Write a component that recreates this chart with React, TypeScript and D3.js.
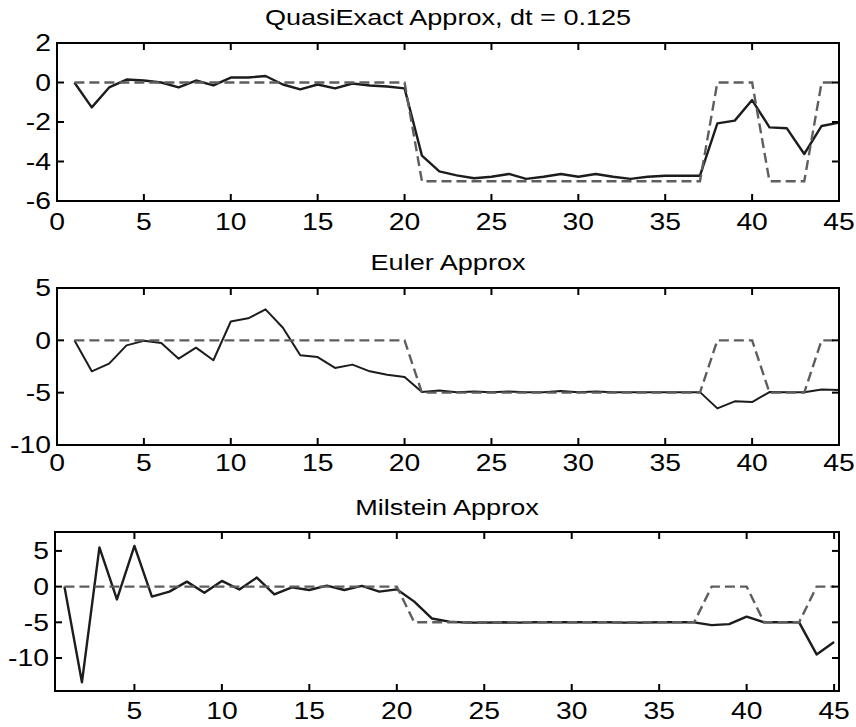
import React from 'react';
import * as d3 from 'd3';

const steps = d3.range(1, 46);

const trueSignal = [
  0, 0, 0, 0, 0, 0, 0, 0, 0, 0, 0, 0, 0, 0, 0, 0, 0, 0, 0, 0,
  -5, -5, -5, -5, -5, -5, -5, -5, -5, -5, -5, -5, -5, -5, -5, -5, -5,
  0, 0, 0,
  -5, -5, -5,
  0, 0,
];

const quasiExact = [
  0, -1.26, -0.25, 0.15, 0.1, 0.0, -0.25, 0.1, -0.15, 0.25,
  0.25, 0.33, -0.1, -0.35, -0.1, -0.3, -0.05, -0.15, -0.2, -0.3,
  -3.7, -4.5, -4.7, -4.85, -4.77, -4.63, -4.88, -4.77, -4.63, -4.77,
  -4.63, -4.77, -4.88, -4.77, -4.72, -4.72, -4.72, -2.07, -1.93, -0.89,
  -2.27, -2.32, -3.62, -2.2, -2.03,
];

const euler = [
  0, -2.96, -2.23, -0.48, -0.05, -0.25, -1.75, -0.7, -1.9, 1.8,
  2.1, 2.96, 1.2, -1.43, -1.6, -2.64, -2.32, -2.96, -3.28, -3.5,
  -4.94, -4.8, -4.95, -4.9, -4.95, -4.9, -4.95, -4.95, -4.85, -4.95,
  -4.9, -4.95, -4.95, -4.95, -4.95, -4.95, -4.95, -6.5, -5.83, -5.9,
  -4.94, -4.95, -4.95, -4.7, -4.75,
];

const milstein = [
  0, -13.4, 5.5, -1.8, 5.7, -1.4, -0.7, 0.7, -0.85, 0.8,
  -0.4, 1.27, -1.08, -0.1, -0.47, 0.14, -0.47, 0.1, -0.7, -0.38,
  -2.1, -4.46, -4.9, -5.05, -5.05, -5.0, -5.05, -5.0, -5.0, -5.0,
  -5.0, -5.0, -5.05, -5.05, -5.0, -5.0, -5.0, -5.4, -5.26, -4.2,
  -5.0, -5.0, -5.0, -9.5, -7.75,
];

const xTicksFull = [0, 5, 10, 15, 20, 25, 30, 35, 40, 45];
const xTicksMil = [5, 10, 15, 20, 25, 30, 35, 40, 45];

const panels = [
  {
    title: 'QuasiExact Approx, dt = 0.125',
    approx: quasiExact,
    xDomain: [0, 45],
    xRange: [57, 839],
    yDomain: [-6, 2],
    yRange: [201, 43],
    yTicks: [-6, -4, -2, 0, 2],
    xTicks: xTicksFull,
    titleY: 25,
    solidWidth: 2.4,
    xLabelDy: 29,
  },
  {
    title: 'Euler Approx',
    approx: euler,
    xDomain: [0, 45],
    xRange: [57, 839],
    yDomain: [-10, 5],
    yRange: [445, 288],
    yTicks: [-10, -5, 0, 5],
    xTicks: xTicksFull,
    titleY: 270,
    solidWidth: 2,
    xLabelDy: 26,
  },
  {
    title: 'Milstein Approx',
    approx: milstein,
    xDomain: [0.46, 45.28],
    xRange: [55, 839],
    yDomain: [-14.62, 7.65],
    yRange: [691, 532],
    yTicks: [-10, -5, 0, 5],
    xTicks: xTicksMil,
    titleY: 515,
    solidWidth: 2.4,
    xLabelDy: 28,
  },
];

const SX = 1.23;
const FONT = "'Liberation Sans', Arial, sans-serif";

function Panel({ p }: { p: any }) {
  const x = d3.scaleLinear().domain(p.xDomain).range(p.xRange);
  const y = d3.scaleLinear().domain(p.yDomain).range(p.yRange);
  const [x0, x1] = p.xRange;
  const [yb, yt] = p.yRange;
  const line = d3
    .line<number>()
    .x((_, i) => x(steps[i]))
    .y((d) => y(d));
  const tickLen = 7;
  return (
    <g>
      <rect x={x0} y={yt} width={x1 - x0} height={yb - yt} fill="#ffffff" />
      <path d={line(p.approx) || ''} fill="none" stroke="#1c1c1c" strokeWidth={p.solidWidth} strokeLinejoin="round" />
      <path d={line(trueSignal) || ''} fill="none" stroke="#5e5e5e" strokeWidth={2.4} strokeDasharray="10,5" />
      {p.xTicks.map((t: number) => (
        <g key={'xt' + t}>
          <line x1={x(t)} x2={x(t)} y1={yb} y2={yb - tickLen} stroke="#000" strokeWidth={2} />
          <line x1={x(t)} x2={x(t)} y1={yt} y2={yt + tickLen} stroke="#000" strokeWidth={2} />
          <text
            transform={`translate(${x(t)},${yb + p.xLabelDy}) scale(${SX},1)`}
            textAnchor="middle"
            fontFamily={FONT}
            fontSize={23}
            fill="#000"
          >
            {t}
          </text>
        </g>
      ))}
      {p.yTicks.map((t: number) => (
        <g key={'yt' + t}>
          <line x1={x0} x2={x0 + tickLen} y1={y(t)} y2={y(t)} stroke="#000" strokeWidth={2} />
          <line x1={x1} x2={x1 - tickLen} y1={y(t)} y2={y(t)} stroke="#000" strokeWidth={2} />
          <text
            transform={`translate(${x0 - 6},${y(t) + 8.3}) scale(${SX},1)`}
            textAnchor="end"
            fontFamily={FONT}
            fontSize={23}
            fill="#000"
          >
            {t}
          </text>
        </g>
      ))}
      <rect x={x0} y={yt} width={x1 - x0} height={yb - yt} fill="none" stroke="#000" strokeWidth={2} />
      <text
        transform={`translate(${(x0 + x1) / 2},${p.titleY}) scale(${SX},1)`}
        textAnchor="middle"
        fontFamily={FONT}
        fontSize={22}
        fill="#000"
      >
        {p.title}
      </text>
    </g>
  );
}

export default function App() {
  return (
    <svg
      width={856}
      height={727}
      style={{ position: 'absolute', left: 0, top: 0, background: '#fff' }}
    >
      <rect x={0} y={0} width={856} height={727} fill="#fff" />
      {panels.map((p, i) => (
        <Panel key={i} p={p} />
      ))}
    </svg>
  );
}
